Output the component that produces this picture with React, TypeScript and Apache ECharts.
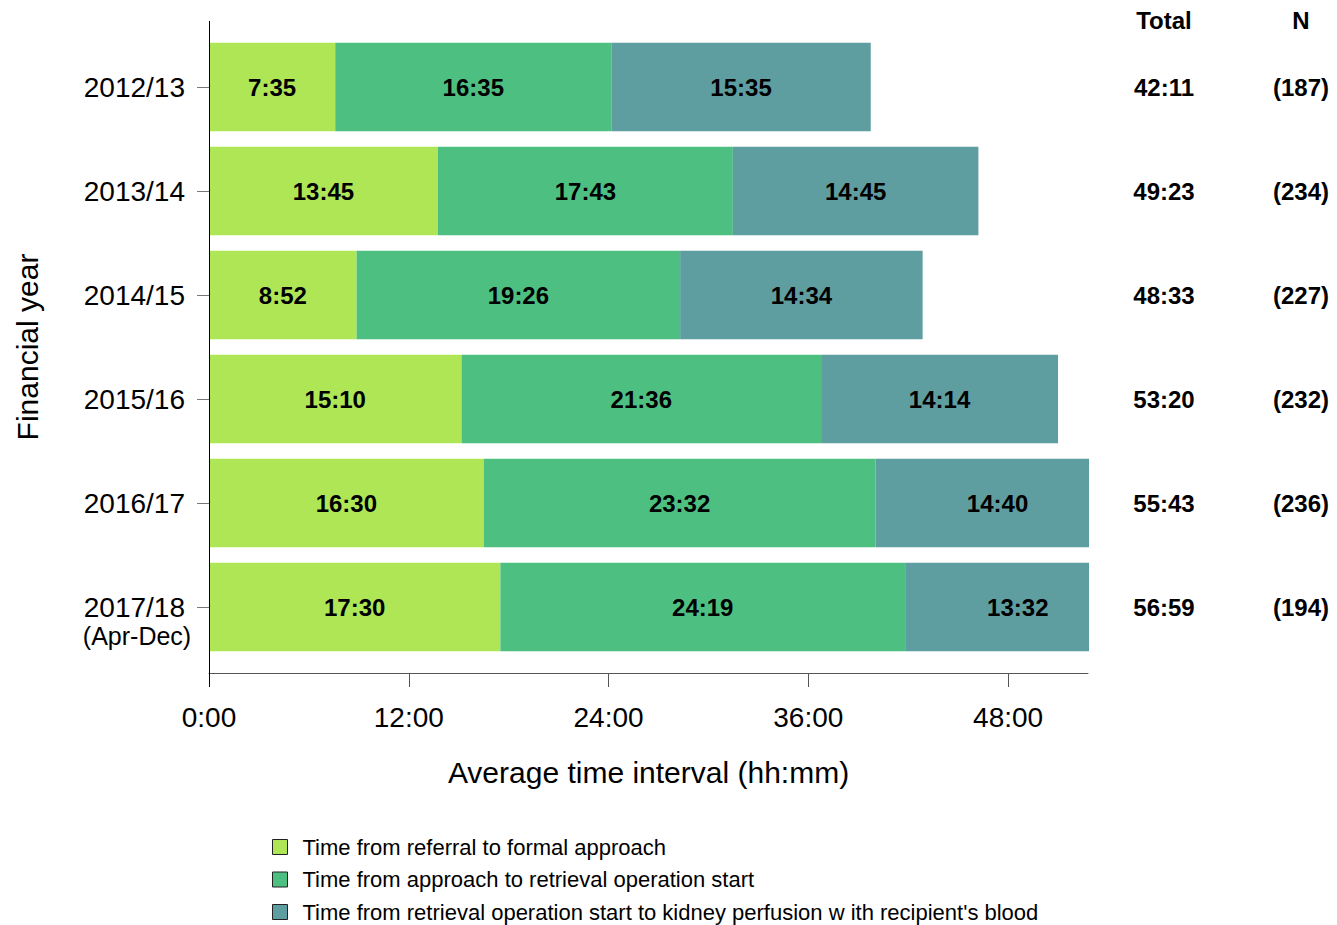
import React, { useEffect, useRef } from "react";
import * as echarts from "echarts";

const categories = ["2012/13", "2013/14", "2014/15", "2015/16", "2016/17", "2017/18"];
const referralToApproach = ["7:35", "13:45", "8:52", "15:10", "16:30", "17:30"];
const approachToRetrieval = ["16:35", "17:43", "19:26", "21:36", "23:32", "24:19"];
const retrievalToPerfusion = ["15:35", "14:45", "14:34", "14:14", "14:40", "13:32"];
const totals = ["42:11", "49:23", "48:33", "53:20", "55:43", "56:59"];
const counts = [187, 234, 227, 232, 236, 194];
const xTicks = [0, 12, 24, 36, 48];
const seriesNames = [
  "Time from referral to formal approach",
  "Time from approach to retrieval operation start",
  "Time from retrieval operation start to kidney perfusion w ith recipient's blood",
];
const colors = ["#AEE655", "#4DC081", "#5F9EA0"];

const FONT = "'Liberation Sans', Arial, sans-serif";

const toHours = (s: string) => {
  const [h, m] = s.split(":").map(Number);
  return h + m / 60;
};
const fmt = (v: number) => {
  const total = Math.round(v * 60);
  const h = Math.floor(total / 60);
  const m = total % 60;
  return `${h}:${m.toString().padStart(2, "0")}`;
};

export default function App() {
  const ref = useRef<HTMLDivElement>(null);
  useEffect(() => {
    if (!ref.current) return;
    const chart = echarts.init(ref.current, null, { renderer: "svg" });
    const raw = [referralToApproach, approachToRetrieval, retrievalToPerfusion];
    const series = raw.map((arr, i) => ({
      type: "bar",
      name: seriesNames[i],
      stack: "total",
      barWidth: "85%",
      clip: false,
      itemStyle: { color: colors[i] },
      label: {
        show: true,
        position: "inside",
        color: "#000",
        fontFamily: FONT,
        fontWeight: "bold",
        fontSize: 24,
        formatter: (p: any) => arr[p.dataIndex],
      },
      data: arr.map(toHours),
    }));
    chart.setOption({
      animation: false,
      textStyle: { fontFamily: FONT },
      grid: { left: 209, right: 249, top: 35, bottom: 266, containLabel: false },
      legend: {
        orient: "vertical",
        left: 272,
        top: 836,
        height: 89,
        padding: 0,
        itemWidth: 15,
        itemHeight: 15,
        itemGap: 10.5,
        icon: "rect",
        itemStyle: { borderColor: "#222", borderWidth: 1 },
        textStyle: { fontFamily: FONT, fontSize: 22, color: "#000", padding: [0, 0, 0, 10] },
        data: seriesNames,
      },
      xAxis: {
        type: "value",
        min: 0,
        max: 52.8,
        interval: 12,
        offset: 14,
        splitLine: { show: false },
        axisLine: { show: true, lineStyle: { color: "#555", width: 1 } },
        axisTick: { show: true, length: 14, lineStyle: { color: "#555" }, customValues: xTicks },
        axisLabel: {
          customValues: xTicks,
          color: "#000",
          fontSize: 28,
          fontFamily: FONT,
          margin: 30,
          formatter: (v: number) => fmt(v),
        },
        name: "Average time interval (hh:mm)",
        nameLocation: "middle",
        nameGap: 84,
        nameTextStyle: { fontSize: 30, color: "#000", fontFamily: FONT },
      },
      yAxis: [
        {
          type: "category",
          inverse: true,
          data: categories,
          axisLine: { show: false },
          axisTick: { show: true, alignWithLabel: true, length: 12, lineStyle: { color: "#777" } },
          axisLabel: { color: "#000", fontSize: 28, fontFamily: FONT, margin: 24 },
          name: "Financial year",
          nameLocation: "middle",
          nameGap: 167,
          nameTextStyle: { fontSize: 30, color: "#000", fontFamily: FONT },
        },
        {
          type: "category",
          inverse: true,
          position: "right",
          data: totals,
          axisLine: { show: false },
          axisTick: { show: false },
          axisLabel: {
            color: "#000",
            fontSize: 24,
            fontWeight: "bold",
            fontFamily: FONT,
            margin: 76,
            align: "center",
          },
        },
        {
          type: "category",
          inverse: true,
          position: "right",
          data: counts.map((n) => `(${n})`),
          axisLine: { show: false },
          axisTick: { show: false },
          axisLabel: {
            color: "#000",
            fontSize: 24,
            fontWeight: "bold",
            fontFamily: FONT,
            margin: 213,
            align: "center",
          },
        },
      ],
      graphic: [
        {
          type: "rect",
          z: 100,
          shape: { x: 1089, y: 30, width: 43, height: 635 },
          style: { fill: "#fff" },
        },
        {
          type: "line",
          z: 100,
          shape: { x1: 209.5, y1: 21, x2: 209.5, y2: 687 },
          style: { stroke: "#000", lineWidth: 1 },
        },
        {
          type: "text",
          z: 100,
          x: 1164,
          y: 20,
          style: {
            text: "Total",
            fontFamily: FONT,
            fontSize: 24,
            fontWeight: "bold",
            fill: "#000",
            textAlign: "center",
            textVerticalAlign: "middle",
          },
        },
        {
          type: "text",
          z: 100,
          x: 1301,
          y: 20,
          style: {
            text: "N",
            fontFamily: FONT,
            fontSize: 24,
            fontWeight: "bold",
            fill: "#000",
            textAlign: "center",
            textVerticalAlign: "middle",
          },
        },
        {
          type: "text",
          z: 100,
          x: 137,
          y: 636,
          style: {
            text: "(Apr-Dec)",
            fontFamily: FONT,
            fontSize: 25,
            fill: "#000",
            textAlign: "center",
            textVerticalAlign: "middle",
          },
        },
      ],
      series,
    });
    return () => chart.dispose();
  }, []);
  return (
    <div
      ref={ref}
      style={{ position: "fixed", left: 0, top: 0, width: 1337, height: 925, background: "#fff" }}
    />
  );
}
